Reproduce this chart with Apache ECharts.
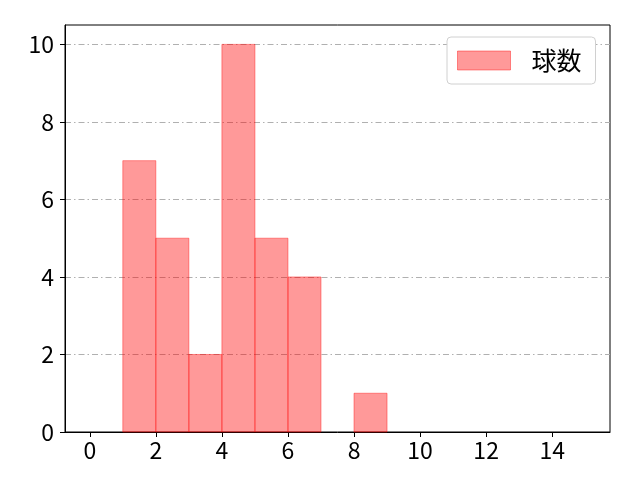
<!DOCTYPE html>
<html>
<head>
<meta charset="utf-8">
<script src="https://cdn.jsdelivr.net/npm/echarts@6/dist/echarts.min.js"></script>
<style>html,body{margin:0;padding:0;background:#fff}#c{width:640px;height:480px}</style>
</head>
<body>
<div id="c"></div>
<script>
// bin left edges (width 1) and counts
const binStarts = [0,1,2,3,4,5,6,7,8,9,10,11,12,13,14];
const binWidth = 1;
const counts = [0,7,5,2,10,5,4,0,1,0,0,0,0,0,0];
const xTicks = [0,2,4,6,8,10,12,14];
const yTicks = [0,2,4,6,8,10];
const seriesName = '球数';

const data = binStarts.map((s,i)=>[s, s+binWidth, counts[i]]).filter(d=>d[2]>0);
const FONT = '"Noto Sans CJK JP", "DejaVu Sans", sans-serif';
const fillC = 'rgba(255,0,0,0.4)';

const chart = echarts.init(document.getElementById('c'));
chart.setOption({
  animation:false,
  grid:{left:65,right:30,top:25,bottom:48,show:true,borderColor:'#000',borderWidth:1,backgroundColor:'transparent'},
  legend:{
    left:447, top:37, orient:'horizontal',
    padding:[11,14,11,10],
    itemWidth:53, itemHeight:19, itemGap:10,
    borderColor:'#d0d0d0', borderWidth:1, borderRadius:4, backgroundColor:'#fff',
    textStyle:{fontFamily:FONT,fontSize:25,color:'#000',padding:[0,0,0,16]},
    data:[{name:seriesName,icon:'rect',itemStyle:{color:fillC,borderColor:fillC,borderWidth:1}}]
  },
  xAxis:{
    type:'value', min:-0.75, max:15.75,
    axisLine:{show:true,onZero:false,lineStyle:{color:'#000',width:1}},
    axisTick:{show:true,length:5,lineStyle:{color:'#000'},customValues:xTicks},
    axisLabel:{margin:7,fontFamily:FONT,fontSize:23,color:'#000',customValues:xTicks},
    splitLine:{show:false}
  },
  yAxis:{
    type:'value', min:0, max:10.5, interval:2,
    axisLine:{show:true,onZero:false,lineStyle:{color:'#000',width:1}},
    axisTick:{show:true,length:5,lineStyle:{color:'#000'},customValues:yTicks},
    axisLabel:{margin:11,fontFamily:FONT,fontSize:23,color:'#000',customValues:yTicks},
    splitLine:{show:true,lineStyle:{color:'#b0b0b0',width:1,type:[6,3,1.5,3]}}
  },
  series:[{
    name:seriesName,
    type:'custom',
    itemStyle:{color:fillC,borderColor:fillC},
    data:data,
    encode:{x:[0,1],y:2},
    renderItem:function(params, api){
      const p0 = api.coord([api.value(0), api.value(2)]);
      const p1 = api.coord([api.value(1), 0]);
      return {
        type:'rect',
        shape:{x:p0[0], y:p0[1], width:p1[0]-p0[0], height:p1[1]-p0[1]},
        style:{fill:fillC, stroke:fillC, lineWidth:1}
      };
    }
  }]
});
</script>
</body>
</html>
